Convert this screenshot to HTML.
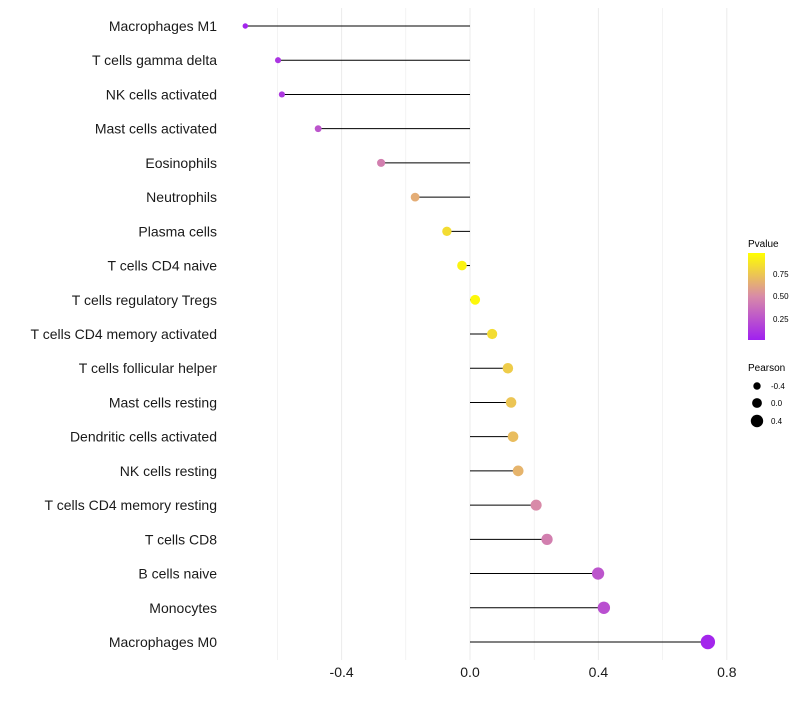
<!DOCTYPE html>
<html><head><meta charset="utf-8"><style>
body{margin:0;background:#fff;font-family:"Liberation Sans",sans-serif;}
svg text{font-family:"Liberation Sans",sans-serif;}
</style></head><body>
<svg id="chart" width="800" height="700">
<defs><linearGradient id="pg" x1="0" y1="1" x2="0" y2="0">
<stop offset="0" stop-color="#a020f0"/><stop offset="0.5" stop-color="#d88aa8"/><stop offset="1" stop-color="#ffff00"/>
</linearGradient></defs>
<g id="grid"></g><g id="marks"></g><g id="ylabels"></g><g id="xticks"></g>
<g>
<text x="748" y="247" font-size="10">Pvalue</text>
<rect x="748" y="253" width="17" height="87" fill="url(#pg)"/>
<text x="773" y="277" font-size="8">0.75</text>
<text x="773" y="299" font-size="8">0.50</text>
<text x="773" y="322" font-size="8">0.25</text>
</g>
<g>
<text x="748" y="371" font-size="10">Pearson</text>
<circle cx="757" cy="386" r="3.7"/><text x="771" y="389" font-size="8">-0.4</text>
<circle cx="757" cy="403" r="4.9"/><text x="771" y="406" font-size="8">0.0</text>
<circle cx="757" cy="421" r="6.2"/><text x="771" y="424" font-size="8">0.4</text>
</g>
</svg>
<script>
const categories=["Macrophages M1","T cells gamma delta","NK cells activated","Mast cells activated","Eosinophils","Neutrophils","Plasma cells","T cells CD4 naive","T cells regulatory  Tregs ","T cells CD4 memory activated","T cells follicular helper","Mast cells resting","Dendritic cells activated","NK cells resting","T cells CD4 memory resting","T cells CD8","B cells naive","Monocytes","Macrophages M0"];
const pearson=[-0.70,-0.598,-0.586,-0.473,-0.277,-0.171,-0.072,-0.025,0.016,0.069,0.118,0.128,0.134,0.150,0.206,0.240,0.399,0.417,0.741];
const pvalues=[0.03,0.1,0.12,0.25,0.45,0.65,0.85,0.95,0.97,0.85,0.78,0.75,0.72,0.68,0.5,0.45,0.25,0.22,0.03];
const xTicks=[-0.4,0.0,0.4,0.8];
const xTickLabels=["-0.4","0.0","0.4","0.8"];
const NS="http://www.w3.org/2000/svg";
const xs=v=>470+v*321;
const ys=i=>26+i*(616/18);
const rs=v=>4.9+v*3.1;
function lerp(a,b,t){return a.map((c,i)=>Math.round(c+(b[i]-c)*t));}
function col(p){const lo=[160,32,240],mid=[216,138,168],hi=[255,255,0];
 const c=p<0.5?lerp(lo,mid,p/0.5):lerp(mid,hi,(p-0.5)/0.5);return`rgb(${c.join(',')})`;}
function mk(t,a,parent){const e=document.createElementNS(NS,t);for(const k in a)e.setAttribute(k,a[k]);parent.appendChild(e);return e;}
const grid=document.getElementById('grid'),marks=document.getElementById('marks'),yl=document.getElementById('ylabels'),xt=document.getElementById('xticks');
for(let v=-0.6;v<=0.81;v+=0.2){const g=mk('line',{x1:xs(v),x2:xs(v),y1:8,y2:660,stroke:'#ebebeb','stroke-width':Math.abs(Math.round(v*10))%4===0?1:0.6},grid);

}
categories.forEach((c,i)=>{const y=ys(i);
 const t=mk('text',{x:217,y:y+5,'text-anchor':'end','font-size':14,fill:'#1a1a1a'},yl);t.textContent=c;
 
 
 const l=mk('line',{x1:xs(0),x2:xs(pearson[i]),y1:y,y2:y,stroke:'#000','stroke-width':1},marks);
 
 
 const p=mk('circle',{cx:xs(pearson[i]),cy:y,r:rs(pearson[i]),fill:col(pvalues[i])},marks);
 
 
});
xTicks.forEach((v,i)=>{const t=mk('text',{x:xs(v),y:677,'text-anchor':'middle','font-size':14,fill:'#1a1a1a'},xt);t.textContent=xTickLabels[i];
 
 });
</script>
</body></html>
